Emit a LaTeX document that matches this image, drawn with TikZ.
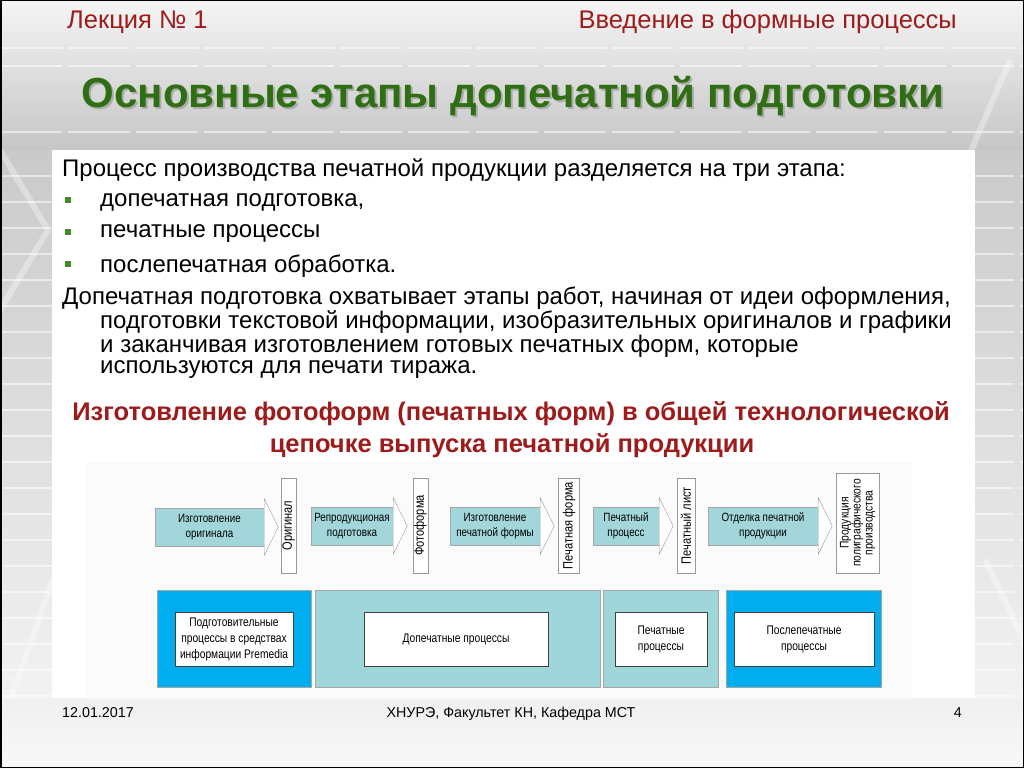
\documentclass[tikz,border=0pt]{standalone}
\usepackage{fontspec}
\setmainfont{Liberation Sans}
\newfontfamily\narrowfont[FakeStretch=0.82]{Liberation Sans}
\usetikzlibrary{calc}
\definecolor{headred}{HTML}{9E1B1B}
\definecolor{titlegreen}{HTML}{2F6E12}
\definecolor{bulletgreen}{HTML}{3C8C28}
\definecolor{stageteal}{HTML}{A2D6DA}
\definecolor{phaseteal}{HTML}{9ED6DA}
\definecolor{phaseblue}{HTML}{00AEEF}
\newcommand{\shadowtext}[1]{\makebox[0pt][l]{\hspace{2pt}\raisebox{-2.5pt}{\color{gray!65}#1}}#1}
\tikzset{>=latex}
\tikzstyle{stripe}=[white,opacity=0.55,line width=1.2pt,dash pattern=on 62pt off 6pt]
\tikzstyle{diag}=[white,opacity=0.35,line width=6pt]
\tikzstyle{line}=[anchor=west,inner sep=0pt,font=\fontsize{24}{26}\selectfont]
\tikzstyle{bullet}=[rectangle,fill=bulletgreen,minimum size=6pt,inner sep=0pt]
\tikzstyle{stage}=[rectangle,draw=gray!70,fill=stageteal,minimum height=38pt,inner sep=0pt,align=center,font=\narrowfont\fontsize{12}{15.5}\selectfont]
\tikzstyle{head}=[draw=gray!80,fill=white]
\tikzstyle{product}=[rectangle,draw=gray!80,fill=white,rotate=90,minimum width=95pt,minimum height=15pt,inner sep=0pt,align=center,font=\narrowfont\fontsize{13.5}{12}\selectfont]
\tikzstyle{phase}=[rectangle,draw=gray!70,minimum height=97pt]
\tikzstyle{phasebox}=[rectangle,draw=black!75,fill=white,minimum height=54pt,inner sep=0pt,align=center,font=\narrowfont\fontsize{12.5}{16}\selectfont]

\begin{document}
\begin{tikzpicture}[x=1pt,y=-1pt]
	\useasboundingbox (0,0) rectangle (1024,768);
	% slide background
	\shade[top color=gray!8,bottom color=gray!45] (0,0) rectangle (1024,150);
	\shade[top color=gray!42,bottom color=gray!10] (0,150) rectangle (1024,700);
	\shade[top color=gray!12,bottom color=gray!5] (0,700) rectangle (1024,768);
	\foreach \y in {48,66,132,176,202,...,696}
		\draw[stripe] (0,\y) -- (1024,\y);
	\draw[diag] (0,150) -- (48,230) -- (0,310);
	\draw[diag] (1010,60) -- (950,200);
	\draw[diag] (60,560) -- (10,700);
	\draw[diag] (985,560) -- (1024,640);
	\fill[white] (52,150) rectangle (975,698);
	\fill[gray!3] (85,462) rectangle (912,697);
	\draw[black,line width=1.5pt] (0.75,0.75) rectangle (1023.25,767.25);
	
	% header
	\node[anchor=west,inner sep=0pt,text=headred,font=\fontsize{25.5}{27}\selectfont] (lecture) at (67,22) {Лекция № 1};
	\node[anchor=east,inner sep=0pt,text=headred,font=\fontsize{25.5}{27}\selectfont] (course) at (957,22) {Введение в формные процессы};
	\node[text=titlegreen,font=\fontsize{42}{44}\bfseries] (title) at (513,97) {\shadowtext{Основные этапы допечатной подготовки}};
	
	% text
	\node[line] (intro) at (62,170) {Процесс производства печатной продукции разделяется на три этапа:};
	\node[bullet] (bul1) at (68,200) {};
	\node[bullet] (bul2) at (68,232) {};
	\node[bullet] (bul3) at (68,264) {};
	\node[line] (item1) at (100,202) {допечатная подготовка,};
	\node[line] (item2) at (100,234) {печатные процессы};
	\node[line] (item3) at (100,266) {послепечатная обработка.};
	\node[line] (para1) at (62,298) {Допечатная подготовка охватывает этапы работ, начиная от идеи оформления,};
	\node[line] (para2) at (100,322) {подготовки текстовой информации, изобразительных оригиналов и графики};
	\node[line] (para3) at (100,346) {и заканчивая изготовлением готовых печатных форм, которые};
	\node[line] (para4) at (100,370) {используются для печати тиража.};
	\node[text=headred,inner sep=0pt,font=\fontsize{25.5}{28}\bfseries] (sub1) at (511,414) {Изготовление фотоформ (печатных форм) в общей технологической};
	\node[text=headred,inner sep=0pt,font=\fontsize{25.5}{28}\bfseries] (sub2) at (512,446) {цепочке выпуска печатной продукции};
	
	% chain
	\node[stage,minimum width=109pt] (stage1) at (209.5,527) {Изготовление\\оригинала};
	\node[stage,minimum width=82pt] (stage2) at (352,526) {Репродукционая\\подготовка};
	\node[stage,minimum width=90pt] (stage3) at (495,526) {Изготовление\\печатной формы};
	\node[stage,minimum width=66pt] (stage4) at (626,526) {Печатный\\процесс};
	\node[stage,minimum width=110pt] (stage5) at (763,526) {Отделка печатной\\продукции};
	\foreach \s in {stage1,stage2,stage3,stage4,stage5}
		\draw[head] ([yshift=9pt]\s.north east) -- ([xshift=14pt]\s.east) -- ([yshift=-9pt]\s.south east) -- cycle;
	\node[product] (prod1) at (288.5,525.5) {Оригинал};
	\node[product] (prod2) at (420.5,525.5) {Фотоформа};
	\node[product,minimum height=21pt] (prod3) at (569,525.5) {Печатная форма};
	\node[product,minimum height=18pt] (prod4) at (686,525.5) {Печатный лист};
	\node[product,minimum width=100pt,minimum height=43pt,font=\narrowfont\fontsize{12.5}{12}\selectfont] (prod5) at (857.5,523) {Продукция\\полиграфического\\производства};
	
	% phases
	\node[phase,fill=phaseblue,minimum width=154pt] (phase1) at (234,638.5) {};
	\node[phase,fill=phaseteal,minimum width=285pt] (phase2) at (457.5,638.5) {};
	\node[phase,fill=phaseteal,minimum width=115pt] (phase3) at (660.5,638.5) {};
	\node[phase,fill=phaseblue,minimum width=155pt] (phase4) at (803.5,638.5) {};
	\node[phasebox,minimum width=118pt] (box1) at (234,639) {Подготовительные\\процессы в средствах\\информации Premedia};
	\node[phasebox,minimum width=184pt] (box2) at (456,639.5) {Допечатные процессы};
	\node[phasebox,minimum width=92pt] (box3) at (661,639.5) {Печатные\\процессы};
	\node[phasebox,minimum width=140pt] (box4) at (804,639.5) {Послепечатные\\процессы};
	
	% footer
	\node[anchor=west,inner sep=0pt,font=\fontsize{14.3}{16}\selectfont] (date) at (62,713) {12.01.2017};
	\node[inner sep=0pt,font=\fontsize{14.3}{16}\selectfont] (dept) at (511,714) {ХНУРЭ, Факультет КН, Кафедра МСТ};
	\node[anchor=east,inner sep=0pt,font=\fontsize{14.3}{16}\selectfont] (page) at (962,713) {4};
\end{tikzpicture}
\end{document}
